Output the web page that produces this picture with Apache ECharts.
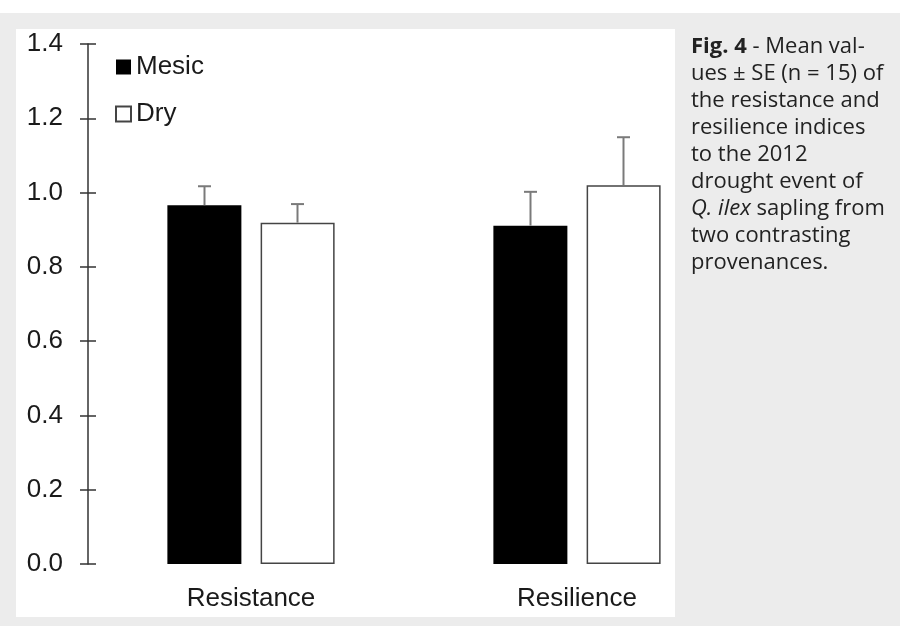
<!DOCTYPE html>
<html>
<head>
<meta charset="utf-8">
<script src="https://cdn.jsdelivr.net/npm/echarts@6/dist/echarts.min.js"></script>
<style>
  html, body { margin: 0; padding: 0; background: #ececec; }
  #chart { width: 900px; height: 626px; }
</style>
</head>
<body>
<div id="chart"></div>
<script>
// --- DATA ---
const categories = ['Resistance', 'Resilience'];
const mesicMean = [0.966, 0.911];
const mesicSE = [0.051, 0.091];
const dryMean = [0.919, 1.020];
const drySE = [0.050, 0.129];
const captionLines = [
    '{b|Fig. 4} - Mean val-',
    'ues ± SE (n = 15) of',
    'the resistance and',
    'resilience indices',
    'to the 2012',
    'drought event of',
    '{i|Q. ilex} sapling from',
    'two contrasting',
    'provenances.'
];

const chart = echarts.init(document.getElementById('chart'));

// upper error bar only, shifted onto its bar
const errorBars = (means, ses, dx) => ({
    type: 'custom',
    z: 5,
    data: means.map((m, i) => [i, m, ses[i]]),
    renderItem: (params, api) => {
        const base = api.coord([api.value(0), api.value(1)]);
        const top = api.coord([api.value(0), api.value(1) + api.value(2)]);
        const x = base[0] + dx;
        const style = { stroke: '#7a7a7a', lineWidth: 2 };
        return {
            type: 'group',
            children: [
                { type: 'line', shape: { x1: x, y1: base[1], x2: x, y2: top[1] }, style },
                { type: 'line', shape: { x1: x - 6.5, y1: top[1], x2: x + 6.5, y2: top[1] }, style }
            ]
        };
    }
});

const axisFont = { fontFamily: 'Liberation Sans, Arial, sans-serif', fontSize: 26, color: '#1a1a1a' };
const capFont = { fontFamily: 'Open Sans, sans-serif', fontSize: 22, lineHeight: 27, fill: '#222' };

const option = {
    backgroundColor: '#ececec',
    animation: false,
    graphic: [
        { type: 'rect', z: -10, shape: { x: 0, y: 0, width: 900, height: 13 }, style: { fill: '#ffffff' } },
        { type: 'rect', z: -10, shape: { x: 16, y: 29, width: 659, height: 588 }, style: { fill: '#ffffff' } },
        {
            type: 'text', left: 691, top: 33,
            style: {
                text: captionLines.join('\n'),
                ...capFont,
                rich: {
                    b: { ...capFont, fontWeight: 'bold' },
                    i: { ...capFont, fontStyle: 'italic' }
                }
            }
        }
    ],
    grid: { left: 88, right: 160, top: 44, bottom: 62 },
    legend: {
        data: ['Mesic', 'Dry'],
        orient: 'vertical',
        left: 110, top: 49,
        icon: 'rect',
        itemWidth: 15, itemHeight: 15,
        itemGap: 21,
        textStyle: axisFont
    },
    xAxis: {
        type: 'category',
        data: categories,
        axisLine: { show: false },
        axisTick: { show: false },
        axisLabel: { ...axisFont, margin: 22 }
    },
    yAxis: [
        {
            type: 'value', min: 0, max: 1.4, interval: 0.2,
            splitLine: { show: false },
            axisLine: { show: true, lineStyle: { color: '#333', width: 1.5 } },
            axisTick: { show: true, length: 8, lineStyle: { color: '#333', width: 1.5 } },
            axisLabel: { ...axisFont, margin: 25, formatter: v => v.toFixed(1) }
        },
        {
            type: 'value', min: 0, max: 1.4, interval: 0.2, position: 'left',
            splitLine: { show: false },
            axisLine: { show: false },
            axisTick: { show: true, inside: true, length: 8, lineStyle: { color: '#333', width: 1.5 } },
            axisLabel: { show: false }
        }
    ],
    series: [
        {
            name: 'Mesic', type: 'bar', data: mesicMean,
            barWidth: 74, barGap: '26%',
            itemStyle: { color: '#000' }
        },
        {
            name: 'Dry', type: 'bar', data: dryMean,
            barWidth: 74,
            itemStyle: { color: '#fff', borderColor: '#444', borderWidth: 1.5 }
        },
        errorBars(mesicMean, mesicSE, -46.5),
        errorBars(dryMean, drySE, 46.5)
    ]
};

chart.setOption(option);
</script>
</body>
</html>
